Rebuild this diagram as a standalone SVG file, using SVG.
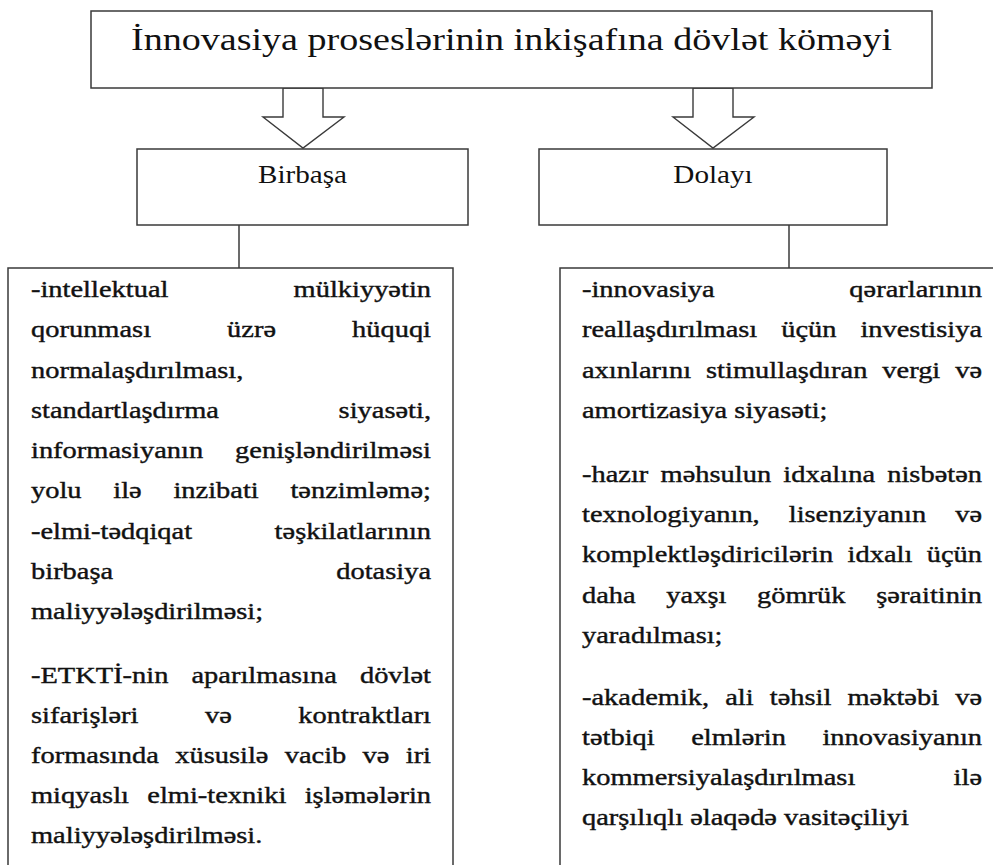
<svg xmlns="http://www.w3.org/2000/svg" width="993" height="865" viewBox="0 0 993 865">
<style>
.box{fill:#fff;stroke:#3a3a3a;stroke-width:1.5}
.ln{fill:none;stroke:#3a3a3a;stroke-width:1.5}
.arr{fill:#fff;stroke:#3a3a3a;stroke-width:1.4;stroke-linejoin:miter}
.t{font-family:"Liberation Serif","Times New Roman",serif;fill:#111}
.b{font-size:23.5px;stroke:#111;stroke-width:0.4}
</style>
<rect width="993" height="865" fill="#fff"/>
<g id="connectors">
<polygon class="arr" points="283,88 283,117 263,117 303,148 344,117 323,117 323,88"/>
<polygon class="arr" points="693,88 693,117 673,117 713,148 754,117 733,117 733,88"/>
<line class="ln" x1="239" y1="225" x2="239" y2="268"/>
<line class="ln" x1="789" y1="225" x2="789" y2="268"/>
</g>
<g id="node-top">
<rect class="box" x="91" y="11" width="841" height="77"/>
<text class="t" font-size="32" text-anchor="middle" transform="matrix(1.19 0 0 1 511.5 50)">İnnovasiya proseslərinin inkişafına dövlət köməyi</text>
</g>
<g id="node-birbasa">
<rect class="box" x="137" y="149" width="331" height="76"/>
<text class="t" font-size="24.5" text-anchor="middle" transform="matrix(1.19 0 0 1 302.5 183)">Birbaşa</text>
</g>
<g id="node-dolayi">
<rect class="box" x="539" y="149" width="348" height="76"/>
<text class="t" font-size="24.5" text-anchor="middle" transform="matrix(1.19 0 0 1 713 183)">Dolayı</text>
</g>
<g id="node-birbasa-list">
<rect class="box" x="8" y="268" width="445" height="640"/>
<text class="t b" transform="matrix(1.21 0 0 1 31 297)" word-spacing="97.5" textLength="330.6" lengthAdjust="spacing">-intellektual mülkiyyətin</text>
<text class="t b" transform="matrix(1.21 0 0 1 31 337)" word-spacing="56.9" textLength="330.6" lengthAdjust="spacing">qorunması üzrə hüquqi</text>
<text class="t b" transform="matrix(1.21 0 0 1 31 378)">normalaşdırılması,</text>
<text class="t b" transform="matrix(1.21 0 0 1 31 418)" word-spacing="93" textLength="330.6" lengthAdjust="spacing">standartlaşdırma siyasəti,</text>
<text class="t b" transform="matrix(1.21 0 0 1 31 458)" word-spacing="20.5" textLength="330.6" lengthAdjust="spacing">informasiyanın genişləndirilməsi</text>
<text class="t b" transform="matrix(1.21 0 0 1 31 498)" word-spacing="20.3" textLength="330.6" lengthAdjust="spacing">yolu ilə inzibati tənzimləmə;</text>
<text class="t b" transform="matrix(1.21 0 0 1 31 539)" word-spacing="62.3" textLength="330.6" lengthAdjust="spacing">-elmi-tədqiqat təşkilatlarının</text>
<text class="t b" transform="matrix(1.21 0 0 1 31 579)" word-spacing="178.5" textLength="330.6" lengthAdjust="spacing">birbaşa dotasiya</text>
<text class="t b" transform="matrix(1.21 0 0 1 31 619)">maliyyələşdirilməsi;</text>
<text class="t b" transform="matrix(1.21 0 0 1 31 683)" word-spacing="13.2" textLength="330.6" lengthAdjust="spacing">-ETKTİ-nin aparılmasına dövlət</text>
<text class="t b" transform="matrix(1.21 0 0 1 31 723)" word-spacing="49.1" textLength="330.6" lengthAdjust="spacing">sifarişləri və kontraktları</text>
<text class="t b" transform="matrix(1.21 0 0 1 31 763)" word-spacing="7.6" textLength="330.6" lengthAdjust="spacing">formasında xüsusilə vacib və iri</text>
<text class="t b" transform="matrix(1.21 0 0 1 31 803)" word-spacing="9.3" textLength="330.6" lengthAdjust="spacing">miqyaslı elmi-texniki işləmələrin</text>
<text class="t b" transform="matrix(1.21 0 0 1 31 843)">maliyyələşdirilməsi.</text>
</g>
<g id="node-dolayi-list">
<rect class="box" x="560" y="268" width="450" height="640"/>
<text class="t b" transform="matrix(1.21 0 0 1 582 297)" word-spacing="105.4" textLength="330.6" lengthAdjust="spacing">-innovasiya qərarlarının</text>
<text class="t b" transform="matrix(1.21 0 0 1 582 337)" word-spacing="13.9" textLength="330.6" lengthAdjust="spacing">reallaşdırılması üçün investisiya</text>
<text class="t b" transform="matrix(1.21 0 0 1 582 378)" word-spacing="6.4" textLength="330.6" lengthAdjust="spacing">axınlarını stimullaşdıran vergi və</text>
<text class="t b" transform="matrix(1.21 0 0 1 582 418)">amortizasiya siyasəti;</text>
<text class="t b" transform="matrix(1.21 0 0 1 582 482)" word-spacing="4.2" textLength="330.6" lengthAdjust="spacing">-hazır məhsulun idxalına nisbətən</text>
<text class="t b" transform="matrix(1.21 0 0 1 582 522)" word-spacing="18.1" textLength="330.6" lengthAdjust="spacing">texnologiyanın, lisenziyanın və</text>
<text class="t b" transform="matrix(1.21 0 0 1 582 562)" word-spacing="6" textLength="330.6" lengthAdjust="spacing">komplektləşdiricilərin idxalı üçün</text>
<text class="t b" transform="matrix(1.21 0 0 1 582 603)" word-spacing="19.5" textLength="330.6" lengthAdjust="spacing">daha yaxşı gömrük şəraitinin</text>
<text class="t b" transform="matrix(1.21 0 0 1 582 643)">yaradılması;</text>
<text class="t b" transform="matrix(1.21 0 0 1 582 705)" word-spacing="7.4" textLength="330.6" lengthAdjust="spacing">-akademik, ali təhsil məktəbi və</text>
<text class="t b" transform="matrix(1.21 0 0 1 582 745)" word-spacing="24.3" textLength="330.6" lengthAdjust="spacing">tətbiqi elmlərin innovasiyanın</text>
<text class="t b" transform="matrix(1.21 0 0 1 582 785)" word-spacing="75.3" textLength="330.6" lengthAdjust="spacing">kommersiyalaşdırılması ilə</text>
<text class="t b" transform="matrix(1.21 0 0 1 582 825)">qarşılıqlı əlaqədə vasitəçiliyi</text>
</g>
</svg>
